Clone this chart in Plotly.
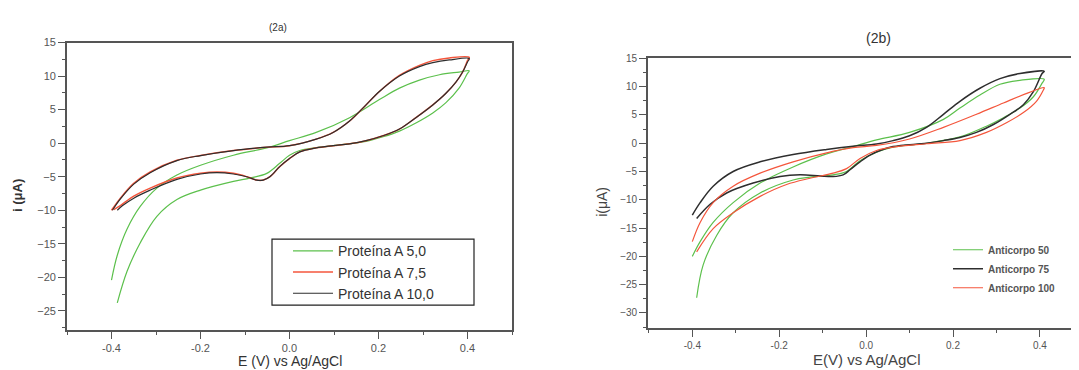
import plotly.graph_objects as go

OFF = 8                      # page body margin of the html page
W, H = 1079 - OFF, 370 - OFF

# ---------------- data ----------------
# Panel (2a)
prot50_E = [-0.40, -0.387, -0.365, -0.335, -0.298, -0.253, -0.20, -0.126, -0.051, 0.0, 0.06, 0.135, 0.202,
            0.247, 0.292, 0.337, 0.381, 0.404, 0.40, 0.381, 0.351, 0.322, 0.284, 0.247, 0.21, 0.172, 0.098,
            0.023, 0.0, -0.022, -0.051, -0.089, -0.126, -0.20, -0.253, -0.298, -0.335, -0.365, -0.387]
prot50_I = [-20.4, -16.7, -12.8, -9.4, -6.7, -4.75, -3.3, -1.8, -0.7, 0.37, 1.6, 3.8, 6.5,
            8.2, 9.4, 10.2, 10.6, 10.8, 10.4, 8.2, 6.0, 4.5, 3.0, 1.8, 0.95, 0.27, -0.37,
            -1.1, -1.8, -3.0, -4.5, -5.2, -5.7, -7.0, -8.4, -10.9, -14.8, -19.1, -23.8]

prot75_E = [-0.40, -0.38, -0.35, -0.313, -0.253, -0.20, -0.126, -0.051, 0.0, 0.06, 0.098, 0.135, 0.172,
            0.202, 0.247, 0.292, 0.322, 0.359, 0.404, 0.40, 0.389, 0.374, 0.351, 0.322, 0.284, 0.247,
            0.21, 0.172, 0.135, 0.098, 0.06, 0.023, 0.0, -0.022, -0.044, -0.059, -0.074, -0.096, -0.126,
            -0.163, -0.20, -0.253, -0.313, -0.35, -0.38, -0.395]
prot75_I = [-10.0, -8.2, -6.0, -4.3, -2.56, -1.83, -1.1, -0.6, -0.37, 0.6, 1.6, 3.3, 5.7,
            7.7, 10.1, 11.6, 12.3, 12.7, 12.8, 12.3, 10.6, 9.1, 7.4, 5.7, 3.8, 2.1,
            1.1, 0.37, -0.1, -0.37, -0.7, -1.3, -2.3, -3.5, -5.0, -5.5, -5.5, -5.0, -4.5,
            -4.3, -4.5, -5.2, -6.7, -7.9, -9.3, -9.9]

prot100_E = [-0.398, -0.38, -0.35, -0.313, -0.253, -0.20, -0.126, -0.051, 0.0, 0.06, 0.098, 0.135, 0.172,
             0.202, 0.247, 0.292, 0.322, 0.359, 0.404, 0.40, 0.389, 0.374, 0.351, 0.322, 0.284, 0.247,
             0.21, 0.172, 0.135, 0.098, 0.06, 0.023, 0.0, -0.022, -0.044, -0.059, -0.074, -0.096, -0.126,
             -0.163, -0.20, -0.253, -0.313, -0.35, -0.375, -0.387]
prot100_I = [-10.0, -8.3, -6.1, -4.4, -2.6, -1.85, -1.1, -0.6, -0.37, 0.6, 1.6, 3.3, 5.7,
             7.7, 10.0, 11.4, 12.0, 12.4, 12.6, 12.1, 10.6, 9.1, 7.4, 5.7, 3.8, 2.1,
             1.1, 0.37, -0.1, -0.37, -0.7, -1.3, -2.3, -3.5, -5.0, -5.5, -5.5, -5.0, -4.6,
             -4.4, -4.6, -5.4, -7.0, -8.2, -9.3, -10.0]

# Panel (2b)
anti50_E = [-0.40, -0.382, -0.352, -0.306, -0.244, -0.168, -0.091, -0.03, 0.024, 0.10, 0.178, 0.216, 0.262,
            0.308, 0.354, 0.41, 0.405, 0.385, 0.354, 0.316, 0.277, 0.216, 0.139, 0.062, 0.024, -0.014,
            -0.045, -0.076, -0.129, -0.168, -0.244, -0.306, -0.344, -0.375, -0.39]
anti50_I = [-20.0, -17.4, -14.0, -10.5, -7.05, -4.2, -1.9, -0.6, 0.57, 1.9, 4.2, 6.2, 8.5,
            10.4, 11.1, 11.3, 10.6, 8.2, 6.2, 4.5, 3.0, 1.1, -0.01, -0.7, -1.6, -3.1,
            -5.0, -5.6, -6.0, -6.5, -8.8, -12.3, -16.3, -21.5, -27.3]

anti75_E = [-0.40, -0.382, -0.352, -0.306, -0.244, -0.168, -0.091, -0.03, 0.024, 0.062, 0.10, 0.139, 0.178,
            0.216, 0.262, 0.308, 0.354, 0.41, 0.405, 0.385, 0.362, 0.331, 0.293, 0.254, 0.216, 0.178,
            0.139, 0.062, 0.032, 0.009, -0.014, -0.037, -0.053, -0.076, -0.106, -0.152, -0.198, -0.26,
            -0.321, -0.359, -0.39]
anti75_I = [-12.7, -10.5, -7.6, -5.0, -3.3, -2.0, -1.1, -0.53, -0.13, 0.45, 1.3, 2.8, 5.1,
            7.4, 9.7, 11.4, 12.3, 12.7, 12.3, 9.1, 6.8, 5.1, 3.3, 1.9, 1.0, 0.45,
            -0.01, -0.6, -1.3, -2.1, -3.3, -4.7, -5.6, -5.9, -5.8, -5.6, -5.9, -7.05,
            -8.8, -10.8, -13.3]

anti100_E = [-0.40, -0.382, -0.352, -0.306, -0.244, -0.168, -0.091, -0.03, 0.024, 0.10, 0.178, 0.254, 0.316,
             0.37, 0.41, 0.408, 0.392, 0.362, 0.323, 0.277, 0.216, 0.139, 0.062, 0.024, -0.014, -0.045,
             -0.076, -0.129, -0.183, -0.244, -0.306, -0.352, -0.39]
anti100_I = [-17.4, -14.0, -10.5, -7.6, -5.3, -3.3, -1.7, -0.8, -0.4, 0.74, 2.8, 5.1, 7.1,
             8.8, 9.8, 9.4, 7.4, 5.4, 3.6, 1.9, 0.45, -0.1, -0.7, -1.3, -2.7, -4.5,
             -5.3, -6.2, -7.3, -9.4, -12.3, -15.1, -19.2]

x_ticks = [-0.4, -0.2, 0.0, 0.2, 0.4]
x_ticklabels = ["-0.4", "-0.2", "0.0", "0.2", "0.4"]

GREEN = "#5cc04c"
RED = "#f4563c"
BLACK = "#2e2e2e"
AXIS = "#555555"
FONT = "Arial, Liberation Sans, sans-serif"

fig = go.Figure()

def add(E, I, name, color, xa, ya, legend, width):
    fig.add_trace(go.Scatter(x=E, y=I, mode="lines", name=name, xaxis=xa, yaxis=ya, legend=legend,
                             line=dict(color=color, width=width, shape="spline", smoothing=1.0)))

add(prot50_E, prot50_I, "Proteína A 5,0", GREEN, "x", "y", "legend", 1.2)
add(prot75_E, prot75_I, "Proteína A 7,5", RED, "x", "y", "legend", 1.5)
add(prot100_E, prot100_I, "Proteína A 10,0", BLACK, "x", "y", "legend", 1.2)
add(anti50_E, anti50_I, "Anticorpo 50", GREEN, "x2", "y2", "legend2", 1.2)
add(anti75_E, anti75_I, "Anticorpo 75", BLACK, "x2", "y2", "legend2", 1.5)
add(anti100_E, anti100_I, "Anticorpo 100", RED, "x2", "y2", "legend2", 1.2)

def px_x(p):
    return (p - OFF) / W

def px_y(p):
    return 1 - (p - OFF) / H

axis_common = dict(showgrid=False, zeroline=False, ticks="outside", ticklen=7, tickwidth=1.2,
                   linecolor=AXIS, linewidth=1.8, tickcolor=AXIS, showline=True)
minor_ticks = dict(ticklen=3, ticks="outside", tickcolor=AXIS, tickwidth=1)

def note(text, x, y, size, color="#333", angle=0, bold=False):
    f = dict(family=FONT, size=size, color=color)
    if bold:
        f["weight"] = "bold"
    return dict(text=text, x=px_x(x), y=px_y(y), xref="paper", yref="paper", showarrow=False,
                xanchor="center", yanchor="middle", textangle=angle, font=f)

fig.update_layout(
    width=W, height=H,
    margin=dict(l=0, r=0, t=0, b=0),
    paper_bgcolor="white", plot_bgcolor="white",
    showlegend=True,
    xaxis=dict(**axis_common, domain=[px_x(67), px_x(512)], range=[-0.5, 0.5], anchor="y",
               tickvals=x_ticks, ticktext=x_ticklabels, mirror=True,
               minor=dict(dtick=0.1, tick0=0, **minor_ticks),
               tickfont=dict(family=FONT, size=11, color="#555")),
    yaxis=dict(**axis_common, domain=[px_y(329), px_y(37)], range=[-27.8, 15], anchor="x",
               dtick=5, tick0=0, mirror=True,
               minor=dict(dtick=2.5, tick0=0, **minor_ticks),
               tickfont=dict(family=FONT, size=11, color="#555")),
    xaxis2=dict(**axis_common, domain=[px_x(648), 1.0], range=[-0.502, 0.49], anchor="y2",
                tickvals=x_ticks, ticktext=x_ticklabels, mirror=True,
                minor=dict(dtick=0.1, tick0=0, **minor_ticks),
                tickfont=dict(family=FONT, size=10, color="#555")),
    yaxis2=dict(**axis_common, domain=[px_y(327), px_y(53)], range=[-32.6, 15], anchor="x2",
                dtick=5, tick0=0, mirror=False,
                minor=dict(dtick=2.5, tick0=0, **minor_ticks),
                tickfont=dict(family=FONT, size=10, color="#555")),
    legend=dict(x=px_x(288), y=px_y(233), xanchor="left", yanchor="top",
                bgcolor="rgba(0,0,0,0)", borderwidth=0, itemwidth=40,
                font=dict(family=FONT, size=14, color="#333"), tracegroupgap=0),
    legend2=dict(x=px_x(948), y=px_y(233), xanchor="left", yanchor="top",
                 bgcolor="rgba(0,0,0,0)", borderwidth=0,
                 font=dict(family=FONT, size=10, color="#555", weight="bold"), tracegroupgap=0),
    shapes=[
        # frame around the (2a) legend
        dict(type="rect", xref="paper", yref="paper",
             x0=px_x(272), x1=px_x(474), y0=px_y(304), y1=px_y(237),
             line=dict(color="#222", width=1.2), fillcolor="rgba(0,0,0,0)", layer="below"),
    ],
    annotations=[
        note("(2a)", 278, 22, 10),
        note("(2b)", 878, 32, 14),
        note("i (μA)", 18, 193, 13, angle=-90, bold=True),
        note("i(μA)", 602, 199, 14, color="#444", angle=-90),
        note("E (V) vs Ag/AgCl", 290, 361, 14),
        note("E(V) vs Ag/AgCl", 867, 359, 15, color="#444"),
    ],
)

fig.write_html("out.html")
